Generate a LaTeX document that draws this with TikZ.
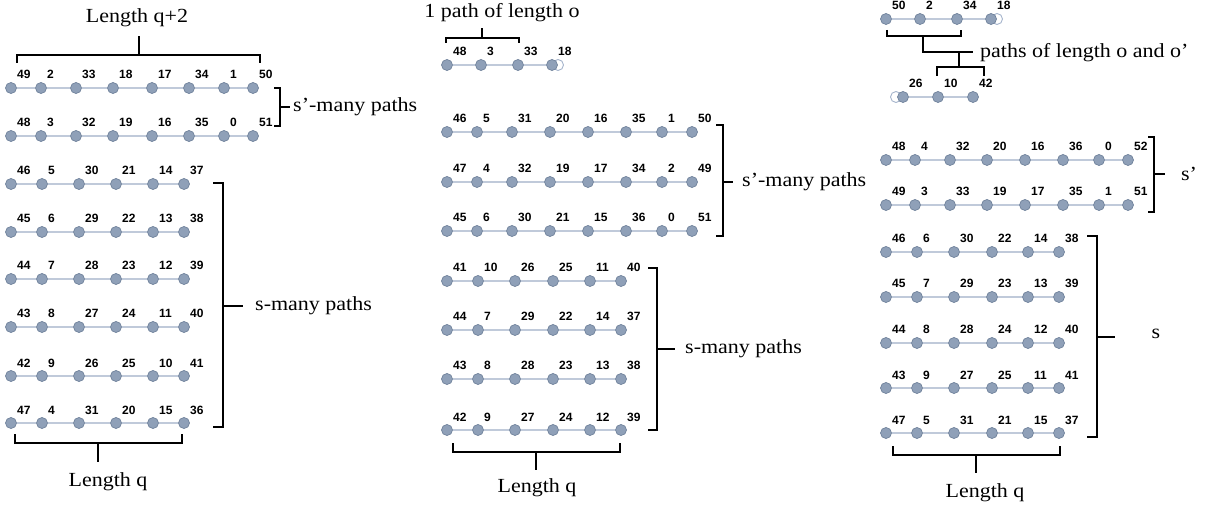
\documentclass[tikz,border=0pt]{standalone}
\usepackage{fontspec}
\setmainfont{Liberation Serif}[FakeStretch=1.1]
\newfontfamily\labfont{Liberation Sans}
\definecolor{dotfill}{RGB}{143,160,184}
\definecolor{dotline}{RGB}{112,130,155}
\definecolor{linkcol}{RGB}{192,202,218}
\definecolor{ghostcol}{RGB}{165,180,204}

\newcommand\pathrow[3]{%
  \foreach \x/\nm [count=\i] in {#3} {
    \node[vertex] (#1-\i) at (\x,#2) {};
    \node[numlab] (#1-\i-l) at ([xshift=6pt,yshift=9pt]#1-\i.center) {\nm};
    \ifnum\i>1
      \pgfmathtruncatemacro\j{\i-1}
      \draw[link] (#1-\j) -- (#1-\i);
    \fi
  }}

\begin{document}
\begin{tikzpicture}[x=1pt, y=-1pt,
	vertex/.style={circle, fill=dotfill, draw=dotline, line width=0.7pt, minimum size=11pt, inner sep=0pt},
	ghost/.style={circle, fill=white, draw=ghostcol, line width=0.9pt, minimum size=11pt, inner sep=0pt},
	link/.style={draw=linkcol, line width=1.5pt},
	numlab/.style={anchor=base west, inner sep=0pt, font=\labfont\bfseries\fontsize{12}{12}\selectfont},
	brk/.style={line width=1.8pt},
	txt/.style={inner sep=0pt, font=\fontsize{20}{22}\selectfont},]

    \useasboundingbox (0,0) rectangle (1207,510);

    % left: length q+2 and q
    \pathrow{a1}{88}{11/49, 41/2, 76/33, 113/18, 152/17, 189/34, 224/1, 253/50}
    \pathrow{a2}{136}{11/48, 41/3, 76/32, 113/19, 152/16, 189/35, 224/0, 253/51}
    \pathrow{a3}{184}{11/46, 42/5, 79/30, 116/21, 153/14, 184/37}
    \pathrow{a4}{232}{11/45, 42/6, 79/29, 116/22, 153/13, 184/38}
    \pathrow{a5}{279}{11/44, 42/7, 79/28, 116/23, 153/12, 184/39}
    \pathrow{a6}{327}{11/43, 42/8, 79/27, 116/24, 153/11, 184/40}
    \pathrow{a7}{376}{11/42, 42/9, 79/26, 116/25, 153/10, 184/41}
    \pathrow{a8}{423}{11/47, 42/4, 79/31, 116/20, 153/15, 184/36}

    \draw[brk] (17,63) -- (17,55) -- (260,55) -- (260,63) (139,55) -- (139,36);
    \node[txt] (lenA) at (137,18) {Length q+2};
    \draw[brk] (274,88) -- (280,88) -- (280,126) -- (274,126) (280,107) -- (290,107);
    \node[txt, anchor=west] (sprA) at (293,107) {s'-many paths};
    \draw[brk] (213,183) -- (223,183) -- (223,427) -- (213,427) (223,306) -- (243,306);
    \node[txt, anchor=west] (smA) at (255,306) {s-many paths};
    \draw[brk] (15,434) -- (15,443) -- (182,443) -- (182,434) (98,443) -- (98,462);
    \node[txt] (lenqA) at (108,482) {Length q};

    % middle: one path of length o
    \node[ghost] (b0-g) at (558,65) {};
    \pathrow{b0}{65}{447/48, 481/3, 518/33, 552/18}
    \draw[brk] (446,43) -- (446,38) -- (519,38) -- (519,43) (482,38) -- (482,28);
    \node[txt] (oneB) at (502,13) {1 path of length o};

    \pathrow{b1}{132}{447/46, 477/5, 512/31, 550/20, 588/16, 626/35, 662/1, 692/50}
    \pathrow{b2}{182}{447/47, 477/4, 512/32, 550/19, 588/17, 626/34, 662/2, 692/49}
    \pathrow{b3}{231}{447/45, 477/6, 512/30, 550/21, 588/15, 626/36, 662/0, 692/51}
    \draw[brk] (716,125) -- (723,125) -- (723,236) -- (716,236) (723,182) -- (733,182);
    \node[txt, anchor=west] (sprB) at (742,182) {s'-many paths};

    \pathrow{b4}{281}{447/41, 478/10, 515/26, 553/25, 590/11, 621/40}
    \pathrow{b5}{330}{447/44, 478/7, 515/29, 553/22, 590/14, 621/37}
    \pathrow{b6}{379}{447/43, 478/8, 515/28, 553/23, 590/13, 621/38}
    \pathrow{b7}{430}{447/42, 478/9, 515/27, 553/24, 590/12, 621/39}
    \draw[brk] (648,268) -- (657,268) -- (657,430) -- (648,430) (657,349) -- (675,349);
    \node[txt, anchor=west] (smB) at (685,349) {s-many paths};
    \draw[brk] (453,443) -- (453,452) -- (620,452) -- (620,443) (536,452) -- (536,470);
    \node[txt] (lenqB) at (537,488) {Length q};

    % right: paths of length o and o'
    \node[ghost] (c0-g) at (997,19) {};
    \pathrow{c0}{19}{886/50, 920/2, 957/34, 991/18}
    \node[ghost] (c9-g) at (896,97) {};
    \pathrow{c9}{97}{903/26, 938/10, 973/42}
    \draw[brk] (887,30) -- (887,36) -- (961,36) -- (961,30) (923,36) -- (923,52) -- (973,52)
        (959,52) -- (959,67) (937,76) -- (937,67) -- (984,67) -- (984,76);
    \node[txt, anchor=west] (ooC) at (980,53) {paths of length o and o'};

    \pathrow{c1}{160}{886/48, 915/4, 950/32, 987/20, 1025/16, 1063/36, 1099/0, 1128/52}
    \pathrow{c2}{205}{886/49, 915/3, 950/33, 987/19, 1025/17, 1063/35, 1099/1, 1128/51}
    \draw[brk] (1148,137) -- (1154,137) -- (1154,212) -- (1148,212) (1154,174) -- (1165,174);
    \node[txt] (spC) at (1189,174) {s'};

    \pathrow{c3}{252}{886/46, 917/6, 954/30, 992/22, 1028/14, 1059/38}
    \pathrow{c4}{297}{886/45, 917/7, 954/29, 992/23, 1028/13, 1059/39}
    \pathrow{c5}{343}{886/44, 917/8, 954/28, 992/24, 1028/12, 1059/40}
    \pathrow{c6}{388}{886/43, 917/9, 954/27, 992/25, 1028/11, 1059/41}
    \pathrow{c7}{433}{886/47, 917/5, 954/31, 992/21, 1028/15, 1059/37}
    \draw[brk] (1087,236) -- (1097,236) -- (1097,437) -- (1087,437) (1097,337) -- (1115,337);
    \node[txt] (sC) at (1156,334) {s};
    \draw[brk] (893,446) -- (893,455) -- (1060,455) -- (1060,446) (976,455) -- (976,473);
    \node[txt] (lenqC) at (985,493) {Length q};
\end{tikzpicture}
\end{document}
